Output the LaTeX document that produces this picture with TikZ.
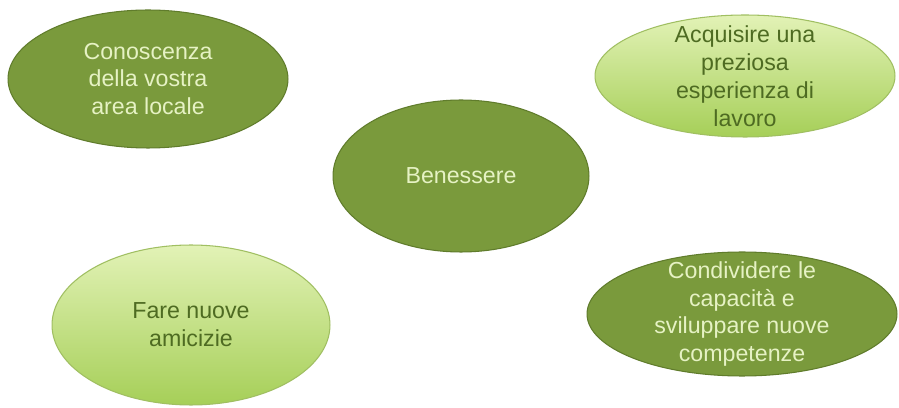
\documentclass[tikz,border=0pt]{standalone}
\usepackage{fontspec}
\setmainfont{Liberation Sans}
\usetikzlibrary{shapes.geometric}
\definecolor{olivefill}{HTML}{7A9A3C}
\definecolor{oliveedge}{HTML}{607C2C}
\definecolor{olivetext}{HTML}{E6F2C4}
\definecolor{limetop}{HTML}{E2F2B6}
\definecolor{limebottom}{HTML}{A6CF58}
\definecolor{limeedge}{HTML}{A0BF62}
\definecolor{limetext}{HTML}{4E6B22}

\begin{document}
\begin{tikzpicture}[x=0.02cm, y=-0.02cm,
    bubble/.style={ellipse, inner sep=0pt, line width=0.6pt},
    darkbubble/.style={bubble, fill=olivefill, draw=oliveedge},
    lightbubble/.style={bubble, top color=limetop, bottom color=limebottom, draw=limeedge},
    label/.style={align=center, inner sep=0pt, font=\fontsize{13.2pt}{15.9pt}\selectfont},
    darklabel/.style={label, text=olivetext},
    lightlabel/.style={label, text=limetext}]
    \fill [white] (0,0) rectangle (899,408); % page

    % Bubbles
    \node [darkbubble, minimum width=5.6cm, minimum height=2.76cm] (area) at (148,79) {};
    \node [lightbubble, minimum width=6cm, minimum height=2.44cm] (work) at (745,76) {};
    \node [darkbubble, minimum width=5.12cm, minimum height=3.04cm] (wellbeing) at (461,176) {};
    \node [lightbubble, minimum width=5.56cm, minimum height=3.2cm] (friends) at (191,325) {};
    \node [darkbubble, minimum width=6.2cm, minimum height=2.48cm] (skills) at (742,314) {};

    % Texts
    \node [darklabel] (areatext) at (area) {Conoscenza\\della vostra\\area locale};
    \node [lightlabel] (worktext) at (work) {Acquisire una\\preziosa\\esperienza di\\lavoro};
    \node [darklabel] (wellbeingtext) at (wellbeing) {Benessere};
    \node [lightlabel] (friendstext) at (friends) {Fare nuove\\amicizie};
    \node [darklabel] (skillstext) at (skills) {Condividere le\\capacità e\\sviluppare nuove\\competenze};
\end{tikzpicture}
\end{document}
